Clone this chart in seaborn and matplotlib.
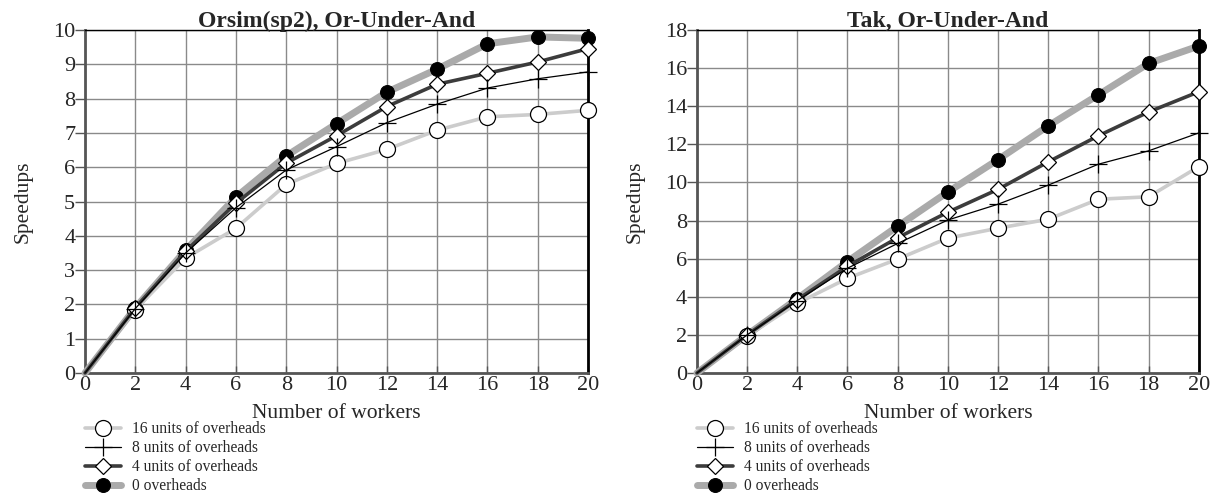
import numpy as np
import pandas as pd
import seaborn as sns
import matplotlib.pyplot as plt

workers = [0, 2, 4, 6, 8, 10, 12, 14, 16, 18, 20]

# Orsim(sp2)
orsim_0 = [0, 1.9, 3.58, 5.13, 6.33, 7.27, 8.19, 8.86, 9.6, 9.8, 9.76]
orsim_4 = [0, 1.9, 3.55, 4.95, 6.12, 6.92, 7.77, 8.42, 8.74, 9.07, 9.46]
orsim_8 = [0, 1.88, 3.5, 4.82, 5.92, 6.6, 7.3, 7.84, 8.31, 8.58, 8.78]
orsim_16 = [0, 1.85, 3.35, 4.22, 5.5, 6.11, 6.52, 7.08, 7.47, 7.54, 7.66]

# Tak
tak_0 = [0, 2.0, 3.9, 5.85, 7.7, 9.5, 11.2, 12.97, 14.6, 16.25, 17.16]
tak_4 = [0, 2.0, 3.85, 5.6, 7.1, 8.44, 9.64, 11.08, 12.45, 13.7, 14.76]
tak_8 = [0, 2.0, 3.8, 5.5, 6.8, 8.03, 8.86, 9.86, 10.96, 11.66, 12.6]
tak_16 = [0, 1.95, 3.66, 4.97, 5.98, 7.08, 7.6, 8.07, 9.12, 9.25, 10.83]

labels = ['16 units of overheads', '8 units of overheads',
          '4 units of overheads', '0 overheads']

sns.set_style('white')
plt.rcParams['font.family'] = ['Liberation Serif', 'DejaVu Serif']

fig = plt.figure(figsize=(12.18, 4.97), dpi=100)
ax1 = fig.add_axes([0.0698, 0.2495, 0.413, 0.690])
ax2 = fig.add_axes([0.5722, 0.2495, 0.412, 0.690])

styles = {
    '0 overheads': dict(color='#aaaaaa', lw=5.0, marker='o', markersize=10,
                        markerfacecolor='black', markeredgecolor='black', zorder=3),
    '16 units of overheads': dict(color='#cccccc', lw=2.6, marker='o', markersize=11.5,
                                  markerfacecolor='white', markeredgecolor='black',
                                  markeredgewidth=0.9, zorder=4),
    '4 units of overheads': dict(color='#3c3c3c', lw=2.6, marker='D', markersize=8,
                                 markerfacecolor='white', markeredgecolor='black',
                                 markeredgewidth=0.9, zorder=5),
    '8 units of overheads': dict(color='black', lw=0.9, marker='+', markersize=13,
                                 markeredgecolor='black', markeredgewidth=0.9, zorder=6),
}


def draw(ax, series, title, ymax, ystep):
    for lab in ['0 overheads', '16 units of overheads',
                '4 units of overheads', '8 units of overheads']:
        sns.lineplot(x=workers, y=series[lab], ax=ax, label=lab,
                     clip_on=False, markevery=list(range(1, len(workers))),
                     **styles[lab])
    ax.set_xlim(0, 20)
    ax.set_ylim(0, ymax)
    ax.set_xticks(range(0, 21, 2))
    ax.set_yticks(np.arange(0, ymax + 0.1, ystep))
    ax.grid(True, color='#8a8a8a', lw=1.0)
    ax.set_axisbelow(True)
    for side in ['left', 'bottom']:
        ax.spines[side].set_color('#555555')
        ax.spines[side].set_linewidth(2.0)
    ax.spines['top'].set_color('black')
    ax.spines['top'].set_linewidth(1.0)
    ax.spines['right'].set_color('black')
    ax.spines['right'].set_linewidth(2.0)
    ax.tick_params(axis='y', direction='out', length=7, width=1, color='#555555',
                   labelsize=16, pad=0, left=True)
    ax.tick_params(axis='x', direction='in', length=5, width=1, color='#555555',
                   labelsize=16, pad=2, bottom=True)
    ax.set_title(title, fontsize=17, fontweight='bold', pad=2)
    ax.set_xlabel('Number of workers', fontsize=15.5, labelpad=7)
    ax.set_ylabel('Speedups', fontsize=15.5, labelpad=15)
    h, l = ax.get_legend_handles_labels()
    order = [l.index(x) for x in labels]
    ax.legend([h[i] for i in order], labels, loc='upper left',
              bbox_to_anchor=(0.0, -0.14), frameon=False, fontsize=11.2,
              handlelength=2.3, handletextpad=0.7, labelspacing=0.2,
              borderaxespad=0, borderpad=0)


draw(ax1, {'0 overheads': orsim_0, '4 units of overheads': orsim_4,
           '8 units of overheads': orsim_8, '16 units of overheads': orsim_16},
     'Orsim(sp2), Or-Under-And', 10, 1)
draw(ax2, {'0 overheads': tak_0, '4 units of overheads': tak_4,
           '8 units of overheads': tak_8, '16 units of overheads': tak_16},
     'Tak, Or-Under-And', 18, 2)

plt.savefig('out.png', dpi=100)
